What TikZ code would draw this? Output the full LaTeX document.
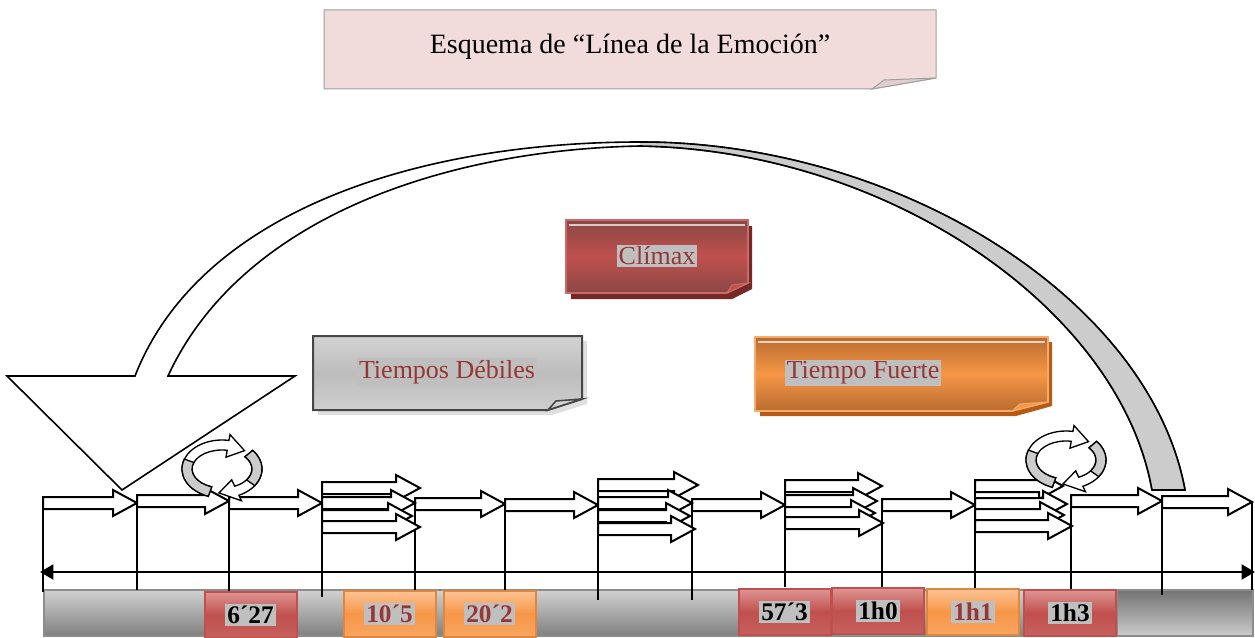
\documentclass[tikz,border=0pt]{standalone}
\usepackage{fontspec}
\setmainfont{Liberation Serif}
\usetikzlibrary{arrows.meta}

\definecolor{titlepink}{RGB}{242,220,219}
\definecolor{hlgray}{RGB}{191,191,191}
\definecolor{labelred}{RGB}{149,55,53}
\definecolor{boxred}{RGB}{192,80,77}
\definecolor{boxreddark}{RGB}{138,72,70}
\definecolor{boxredlight}{RGB}{222,150,148}
\definecolor{redshadow}{RGB}{118,40,38}
\definecolor{boxorange}{RGB}{247,150,70}
\definecolor{boxorangedark}{RGB}{184,108,48}
\definecolor{boxorangelight}{RGB}{251,196,150}
\definecolor{orangeshadow}{RGB}{182,90,20}
\definecolor{ringgray}{RGB}{204,204,204}

\newcommand{\hl}[1]{{\setlength{\fboxsep}{1.5pt}\colorbox{hlgray}{#1}}}
% hollow block arrow: start x, tip x, centre y
\newcommand{\blockarrow}[3]{\filldraw[blockarrow] (#1,#3-6) -- (#2-24,#3-6) -- (#2-24,#3-13) -- (#2,#3) -- (#2-24,#3+13) -- (#2-24,#3+6) -- (#1,#3+6) -- cycle;}
% two curved arrows turning round a ring
\newcommand{\cyclearrows}[2]{%
	\begin{scope}[shift={(#1,#2)},yscale=-1]
	\filldraw[ringwhite] (40:40 and 29) arc[start angle=40,end angle=-65,x radius=40,y radius=29] -- (-65:46 and 35) -- (-95:35 and 24) -- (-65:23 and 12) -- (-65:30 and 19) arc[start angle=-65,end angle=40,x radius=30,y radius=19] -- cycle;
	\filldraw[ringback] (40:40 and 29) arc[start angle=40,end angle=-35,x radius=40,y radius=29] -- (-35:30 and 19) arc[start angle=-35,end angle=40,x radius=30,y radius=19] -- cycle;
	\filldraw[ringwhite] (250:40 and 29) arc[start angle=250,end angle=80,x radius=40,y radius=29] -- (80:46 and 35) -- (50:35 and 24) -- (80:23 and 12) -- (80:30 and 19) arc[start angle=80,end angle=250,x radius=30,y radius=19] -- cycle;
	\filldraw[ringback] (250:40 and 29) arc[start angle=250,end angle=160,x radius=40,y radius=29] -- (160:30 and 19) arc[start angle=160,end angle=250,x radius=30,y radius=19] -- cycle;
	\end{scope}}

\tikzset{every picture/.style={line width=0.75pt}}
\tikzset{
	blockarrow/.style={draw=black, fill=white, line width=1.5pt, line join=miter},
	ringwhite/.style={draw=black, fill=white, line width=1pt},
	ringback/.style={draw=black, fill=ringgray, line width=1pt},
	bigarrow/.style={draw=black, fill=white, line width=1.2pt},
	tick/.style={draw=black, line width=1.5pt},
	boxtext/.style={text=labelred, inner sep=0pt, font=\fontsize{19.5}{23}\selectfont},
	timebox/.style={rectangle, minimum width=69pt, minimum height=35pt, inner sep=0pt, line width=1.5pt, font=\bfseries\fontsize{19}{22}\selectfont},
	redtime/.style={timebox, draw=boxred, top color=boxredlight, bottom color=boxred!90!white, middle color=boxred, text=black},
	orangetime/.style={timebox, draw=boxorange!90!black, top color=boxorangelight, bottom color=boxorange!85!white, middle color=boxorange, text=labelred}
}

\begin{document}
\begin{tikzpicture}[x=0.75pt,y=0.75pt,yscale=-1,xscale=1]
	\useasboundingbox (0,0) rectangle (1255,638);

	%Curved big arrow, from the end back to the start
	\filldraw[bigarrow] (135,376) .. controls (200,210) and (420,142) .. (640,142) .. controls (900,142) and (1150,300) .. (1185,490) -- (1152,490) .. controls (1120,310) and (890,150) .. (640,146) .. controls (440,150) and (240,220) .. (168,376) -- (295,376) -- (122,490) -- (7,376) -- cycle;
	\fill[ringgray] (640,142) .. controls (900,142) and (1150,300) .. (1185,490) -- (1152,490) .. controls (1120,310) and (890,150) .. (640,146) -- cycle;
	\draw[line width=1.2pt] (640,142) .. controls (900,142) and (1150,300) .. (1185,490) -- (1152,490) .. controls (1120,310) and (890,150) .. (640,146);

	%Title note
	\filldraw[fill=titlepink, draw=gray!75] (324,10) -- (936,10) -- (936,78) -- (872,89) -- (324,89) -- cycle;
	\filldraw[fill=titlepink!85!gray, draw=gray!75] (872,89) -- (884,80) -- (936,78) -- cycle;
	\node[font=\fontsize{21}{25}\selectfont] (title) at (630,47) {Esquema de “Línea de la Emoción”};

	%Climax note
	\fill[redshadow] (571,226) -- (752,226) -- (752,289) -- (732,299) -- (571,299) -- cycle;
	\filldraw[top color=boxreddark, bottom color=boxreddark, middle color=boxred, draw=boxred!85!white, line width=1.2pt] (566,220) -- (748,220) -- (748,283) -- (727,293) -- (566,293) -- cycle;
	\draw[white, opacity=0.7, line width=1.5pt] (569,225) -- (745,225);
	\filldraw[fill=boxred, draw=boxred!85!white] (727,293) -- (732,285) -- (748,283) -- cycle;
	\node[boxtext] (climax) at (657,256) {\hl{Clímax}};

	%Weak times note
	\fill[gray!25] (318,341) -- (587,341) -- (587,404) -- (552,415) -- (318,415) -- cycle;
	\filldraw[top color=gray!35, bottom color=gray!38, middle color=gray!52, draw=gray!55!black, line width=1.5pt] (313,336) -- (582,336) -- (582,399) -- (548,410) -- (313,410) -- cycle;
	\filldraw[fill=gray!35, draw=gray!55!black, line width=1.2pt] (548,410) -- (556,401) -- (582,399) -- cycle;
	\node[boxtext] (debiles) at (447,372) {\hl{Tiempos Débiles}};

	%Strong time note
	\fill[orangeshadow] (760,342) -- (1052,342) -- (1052,406) -- (1016,416) -- (760,416) -- cycle;
	\filldraw[top color=boxorangedark, bottom color=boxorangedark, middle color=boxorange, draw=boxorange!80!white, line width=1.2pt] (755,337) -- (1048,337) -- (1048,402) -- (1012,411) -- (755,411) -- cycle;
	\draw[white, opacity=0.7, line width=1.5pt] (758,342) -- (1045,342);
	\filldraw[fill=boxorange, draw=boxorange!80!white] (1012,411) -- (1020,404) -- (1048,402) -- cycle;
	\node[boxtext] (fuerte) at (863,373) {\hl{Tiempo Fuerte}};

	%Time bar
	\filldraw[top color=black!18, bottom color=black!50, draw=black!45, line width=1.5pt] (44,590) rectangle (1253,636);
	\filldraw[top color=black!55, bottom color=black!20, draw=black!45, line width=1.5pt] (1117,590) rectangle (1253,636);

	%Ticks
	\draw[tick] (43,503) -- (43,592);
	\draw[tick] (137,503) -- (137,590);
	\draw[tick] (229,503) -- (229,593);
	\draw[tick] (322,488) -- (322,597);
	\draw[tick] (415,503) -- (415,598);
	\draw[tick] (505,505) -- (505,600);
	\draw[tick] (598,485) -- (598,600);
	\draw[tick] (692,505) -- (692,600);
	\draw[tick] (785,485) -- (785,587);
	\draw[tick] (882,500) -- (882,587);
	\draw[tick] (975,485) -- (975,588);
	\draw[tick] (1071,505) -- (1071,590);
	\draw[tick] (1162,501) -- (1162,595);
	\draw[tick] (1252,502) -- (1252,590);

	%Time marks
	\node[redtime] (t627) at (250.5,615) {\hl{6´27}};
	\node[orangetime] (t105) at (389.5,614) {\hl{10´5}};
	\node[orangetime] (t202) at (489.5,614) {\hl{20´2}};
	\node[redtime] (t573) at (784.5,612) {\hl{57´3}};
	\node[redtime] (t1h0) at (878,611) {\hl{1h0}};
	\node[orangetime] (t1h1) at (973,612) {\hl{1h1}};
	\node[redtime] (t1h3) at (1070,613) {\hl{1h3}};

	%Time axis
	\coordinate (axl) at (40,572);
	\coordinate (axr) at (1255,572);
	\draw[line width=2.2pt, {Triangle[length=10pt,width=11pt]}-{Triangle[length=10pt,width=11pt]}] (axl) -- (axr);

	%Single steps
	\blockarrow{43}{137}{503}
	\blockarrow{137}{229}{501}
	\blockarrow{229}{322}{503}
	\blockarrow{415}{505}{504}
	\blockarrow{505}{598}{505}
	\blockarrow{692}{785}{505}
	\blockarrow{882}{975}{505}
	\blockarrow{1071}{1162}{501}
	\blockarrow{1162}{1252}{502}

	%Stacked steps
	\blockarrow{322}{420}{488}
	\blockarrow{322}{415}{503}
	\blockarrow{322}{412}{516}
	\blockarrow{322}{420}{527}
	\blockarrow{598}{698}{485}
	\blockarrow{598}{692}{503}
	\blockarrow{598}{690}{516}
	\blockarrow{598}{695}{529}
	\blockarrow{785}{882}{486}
	\blockarrow{785}{877}{501}
	\blockarrow{785}{875}{513}
	\blockarrow{785}{883}{523}
	\blockarrow{975}{1063}{486}
	\blockarrow{975}{1067}{504}
	\blockarrow{975}{1064}{515}
	\blockarrow{975}{1072}{526}

	%Turning arrows
	\cyclearrows{222}{469}
	\cyclearrows{1066}{460}

\end{tikzpicture}
\end{document}
